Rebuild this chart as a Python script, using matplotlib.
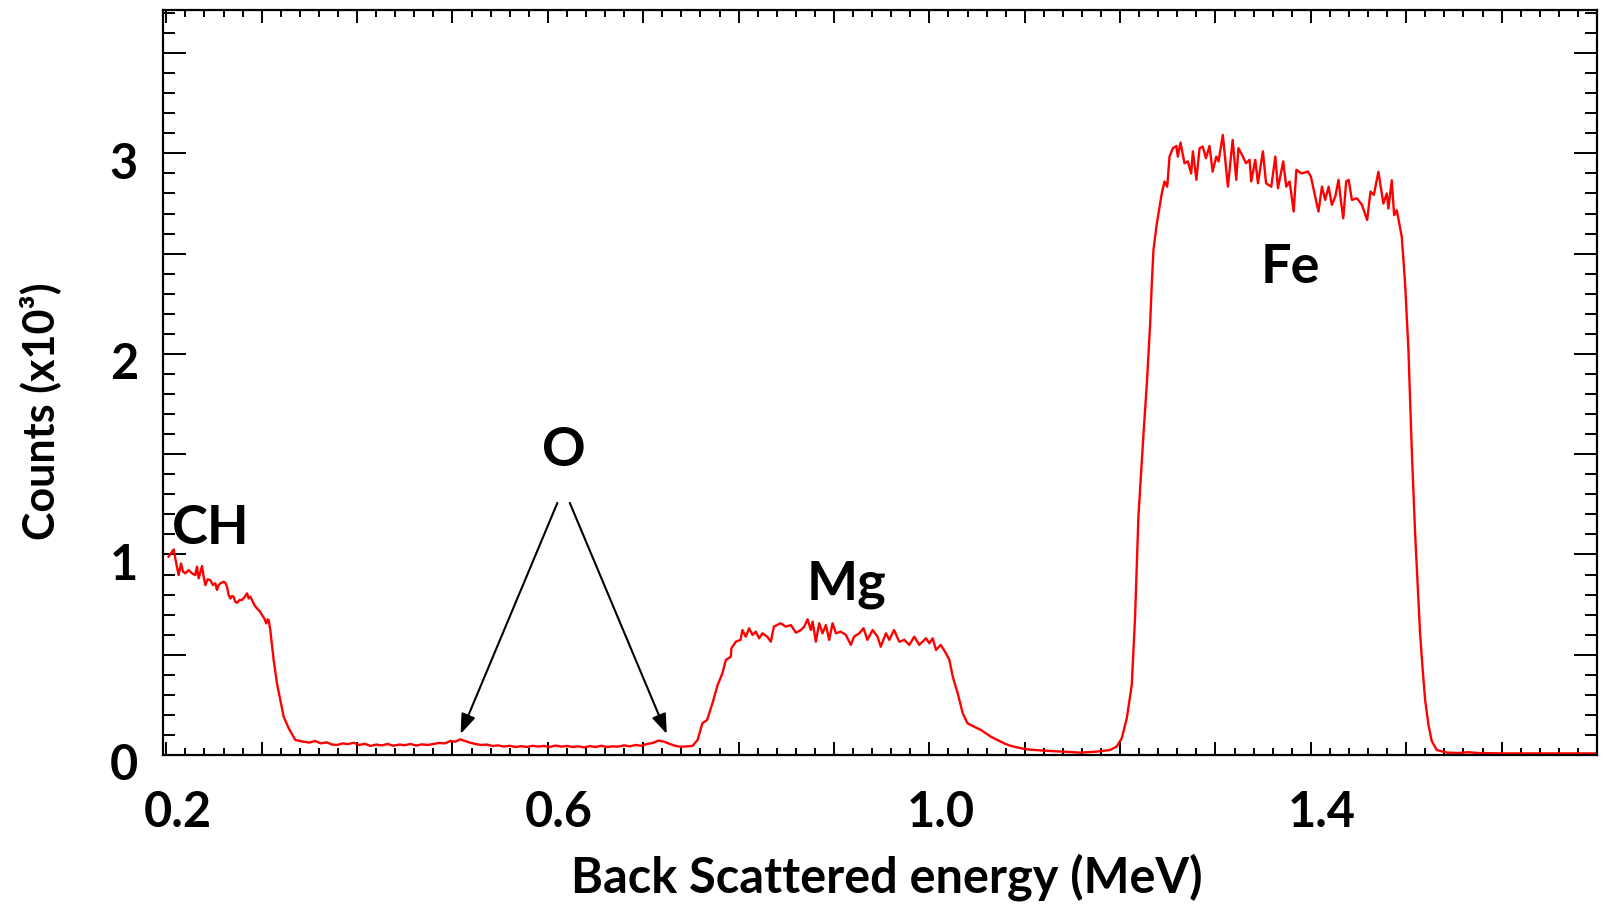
import matplotlib
matplotlib.use('Agg')
import numpy as np
import matplotlib.pyplot as plt
from matplotlib.ticker import MultipleLocator, FuncFormatter
from matplotlib.transforms import ScaledTranslation

plt.rcParams['font.family'] = ['Lato', 'DejaVu Sans']
plt.rcParams['font.weight'] = 'bold'

# ---------------- data ----------------
ch_energy = [0.2024, 0.2077, 0.2094, 0.2129, 0.2154, 0.2175, 0.2199, 0.2234, 0.2269, 0.2304,
             0.2321, 0.2339, 0.2374, 0.2391, 0.2409, 0.2433, 0.2461, 0.2489, 0.2514, 0.2531,
             0.2549, 0.2566, 0.2601, 0.2618, 0.2636, 0.2653, 0.2671, 0.2688, 0.2706, 0.2723,
             0.2741, 0.2769, 0.2793, 0.2818, 0.2846, 0.2863, 0.2881, 0.2898, 0.2923, 0.2950,
             0.2985, 0.3003, 0.3027, 0.3048, 0.3062, 0.3073, 0.3090, 0.3125, 0.3160, 0.3195,
             0.3230, 0.3283, 0.3352]
ch_counts = [0.989, 1.025, 0.980, 0.897, 0.955, 0.914, 0.906, 0.922, 0.906, 0.897,
             0.939, 0.881, 0.942, 0.889, 0.847, 0.876, 0.872, 0.847, 0.856, 0.823,
             0.847, 0.856, 0.864, 0.859, 0.839, 0.798, 0.781, 0.793, 0.789, 0.764,
             0.759, 0.773, 0.773, 0.786, 0.806, 0.781, 0.789, 0.773, 0.748, 0.731,
             0.714, 0.698, 0.681, 0.656, 0.676, 0.673, 0.623, 0.474, 0.357, 0.274,
             0.191, 0.133, 0.075]

o_energy = [0.344, 0.350, 0.356, 0.362, 0.368, 0.374, 0.379, 0.385, 0.390, 0.3965,
            0.402, 0.408, 0.414, 0.420, 0.426, 0.432, 0.438, 0.444, 0.450, 0.456,
            0.462, 0.468, 0.474, 0.480, 0.486, 0.492, 0.498, 0.503, 0.508, 0.513,
            0.518, 0.524, 0.530, 0.536, 0.542, 0.548, 0.554, 0.560, 0.566, 0.572,
            0.578, 0.584, 0.590, 0.596, 0.602, 0.608, 0.614, 0.620, 0.626, 0.632,
            0.638, 0.644, 0.650, 0.656, 0.662, 0.668, 0.674, 0.680, 0.686, 0.692,
            0.698, 0.704, 0.710, 0.716, 0.722, 0.728, 0.734]
o_counts = [0.066, 0.062, 0.070, 0.058, 0.063, 0.052, 0.050, 0.058, 0.054, 0.061,
            0.050, 0.056, 0.045, 0.052, 0.048, 0.055, 0.046, 0.052, 0.049, 0.055,
            0.047, 0.053, 0.050, 0.055, 0.060, 0.058, 0.070, 0.066, 0.078, 0.070,
            0.062, 0.055, 0.050, 0.052, 0.045, 0.048, 0.042, 0.046, 0.040, 0.044,
            0.040, 0.046, 0.042, 0.045, 0.040, 0.047, 0.042, 0.045, 0.040, 0.043,
            0.038, 0.044, 0.040, 0.046, 0.040, 0.043, 0.042, 0.048, 0.043, 0.050,
            0.046, 0.055, 0.060, 0.072, 0.066, 0.055, 0.045]

mg_energy = [0.7394, 0.7516, 0.757, 0.762, 0.767, 0.7726, 0.778, 0.783, 0.7866, 0.7918,
             0.7925, 0.797, 0.802, 0.804, 0.8075, 0.811, 0.8146, 0.818, 0.8215, 0.825,
             0.830, 0.8338, 0.837, 0.844, 0.8495, 0.8548, 0.860, 0.8653, 0.8688, 0.8723,
             0.8758, 0.8776, 0.881, 0.8845, 0.888, 0.8915, 0.895, 0.8985, 0.902, 0.907,
             0.9124, 0.9177, 0.921, 0.9265, 0.931, 0.935, 0.9405, 0.9457, 0.949, 0.9545,
             0.958, 0.963, 0.9685, 0.9737, 0.979, 0.9842, 0.9894, 0.9965, 1.000, 1.0035,
             1.007, 1.012, 1.0174, 1.021, 1.0245, 1.0297, 1.035, 1.040, 1.047, 1.054,
             1.0646, 1.075]
mg_counts = [0.041, 0.045, 0.075, 0.158, 0.175, 0.258, 0.349, 0.407, 0.474, 0.490,
             0.532, 0.565, 0.574, 0.623, 0.590, 0.632, 0.599, 0.615, 0.582, 0.607,
             0.590, 0.565, 0.640, 0.657, 0.640, 0.648, 0.610, 0.623, 0.640, 0.677,
             0.623, 0.665, 0.565, 0.657, 0.607, 0.648, 0.574, 0.657, 0.607, 0.615,
             0.599, 0.549, 0.590, 0.607, 0.632, 0.574, 0.623, 0.590, 0.540, 0.607,
             0.574, 0.623, 0.565, 0.574, 0.549, 0.590, 0.549, 0.582, 0.557, 0.582,
             0.524, 0.549, 0.507, 0.474, 0.391, 0.308, 0.208, 0.158, 0.141, 0.125,
             0.091, 0.066]

gap_energy = [1.080, 1.085, 1.090, 1.095, 1.100, 1.105, 1.110, 1.120, 1.130, 1.140,
              1.150, 1.158, 1.166, 1.1755, 1.1895]
gap_counts = [0.055, 0.046, 0.040, 0.035, 0.030, 0.027, 0.025, 0.022, 0.019, 0.017,
              0.014, 0.012, 0.014, 0.017, 0.025]

fe_energy = [1.1964, 1.2017, 1.2070, 1.2122, 1.2157, 1.2192, 1.2245, 1.228, 1.2315, 1.2332,
             1.235, 1.2385, 1.2437, 1.2466, 1.2494, 1.2518, 1.2553, 1.259, 1.2605, 1.2633,
             1.2675, 1.271, 1.2745, 1.2763, 1.280, 1.2833, 1.2866, 1.290, 1.2937, 1.297,
             1.3008, 1.3032, 1.3077, 1.313, 1.318, 1.3218, 1.324, 1.3287, 1.332, 1.3357,
             1.3375, 1.3417, 1.3445, 1.3497, 1.353, 1.3585, 1.3627, 1.3655, 1.371, 1.3742,
             1.3777, 1.382, 1.3848, 1.390, 1.397, 1.400, 1.4046, 1.408, 1.4116, 1.415,
             1.4186, 1.422, 1.4256, 1.429, 1.4318, 1.434, 1.437, 1.4396, 1.443, 1.4483,
             1.4536, 1.459, 1.4625, 1.466, 1.4708, 1.476, 1.4796, 1.4813, 1.4848, 1.4873,
             1.4901, 1.4953, 1.4988, 1.5023, 1.5058, 1.5093, 1.5128, 1.5145, 1.517, 1.5198,
             1.5233, 1.5267, 1.532, 1.5425]
fe_counts = [0.042, 0.083, 0.183, 0.349, 0.69, 1.19, 1.60, 1.85, 2.15, 2.35,
             2.52, 2.65, 2.80, 2.86, 2.834, 2.984, 3.026, 3.037, 2.984, 3.054,
             2.951, 2.96, 2.90, 3.01, 2.868, 3.026, 3.034, 2.976, 3.037, 2.909,
             2.984, 2.96, 3.092, 2.834, 3.067, 2.868, 3.026, 2.984, 2.951, 2.968,
             2.86, 2.968, 2.851, 3.01, 2.851, 2.834, 2.984, 2.826, 2.96, 2.834,
             2.86, 2.71, 2.918, 2.90, 2.909, 2.884, 2.785, 2.71, 2.834, 2.768,
             2.834, 2.743, 2.785, 2.868, 2.751, 2.676, 2.86, 2.868, 2.768, 2.776,
             2.743, 2.668, 2.81, 2.793, 2.908, 2.75, 2.80, 2.725, 2.866, 2.692,
             2.717, 2.584, 2.351, 2.019, 1.520, 1.105, 0.773, 0.606, 0.44, 0.274,
             0.15, 0.07, 0.025, 0.012]

tail_energy = [1.555, 1.565, 1.575, 1.600, 1.650, 1.700]
tail_counts = [0.010, 0.014, 0.010, 0.008, 0.008, 0.008]

x_label_values = [0.2, 0.6, 1.0, 1.4]
y_label_values = [0, 1, 2, 3]

element_names = ['CH', 'O', 'Mg', 'Fe']
element_energy = [0.247, 0.6166, 0.9135, 1.379]
element_height = [1.13, 1.52, 0.85, 2.43]

# arrows for O: (tail energy, tail counts) -> (head energy, head counts)
o_arrow_tails = [(0.610, 1.257), (0.623, 1.257)]
o_arrow_heads = [(0.5085, 0.105), (0.7247, 0.105)]

energy = np.concatenate([ch_energy, o_energy, mg_energy, gap_energy, fe_energy, tail_energy])
counts = np.concatenate([ch_counts, o_counts, mg_counts, gap_counts, fe_counts, tail_counts])

# ---------------- figure ----------------
fig = plt.figure(figsize=(16.02, 9.09), dpi=100)
ax = fig.add_axes([163 / 1602, 1 - 755 / 909, (1597 - 163) / 1602, (755 - 10) / 909])

ax.plot(energy, counts, color='#ff0000', lw=1.7, solid_joinstyle='round')

ax.set_xlim(0.1965, 1.70)
ax.set_ylim(0, 3.715)

for s in ax.spines.values():
    s.set_linewidth(1.6)

ax.xaxis.set_major_locator(MultipleLocator(0.1))
ax.xaxis.set_minor_locator(MultipleLocator(0.02))
ax.yaxis.set_major_locator(MultipleLocator(0.5))
ax.yaxis.set_minor_locator(MultipleLocator(0.1))


def xfmt(v, pos):
    for t in x_label_values:
        if abs(v - t) < 1e-6:
            return f'{t:.1f}'
    return ''


def yfmt(v, pos):
    for t in y_label_values:
        if abs(v - t) < 1e-6:
            return f'{t:d}'
    return ''


ax.xaxis.set_major_formatter(FuncFormatter(xfmt))
ax.yaxis.set_major_formatter(FuncFormatter(yfmt))

ax.tick_params(axis='x', which='major', direction='in', length=9.5, width=1.4,
               top=True, bottom=True, labelsize=35, pad=25)
ax.tick_params(axis='x', which='minor', direction='in', length=5, width=1.4,
               top=True, bottom=True)
ax.tick_params(axis='y', which='major', direction='in', length=16.5, width=1.4,
               left=True, right=True, labelsize=35, pad=18)
ax.tick_params(axis='y', which='minor', direction='in', length=8.5, width=1.4,
               left=True, right=True)

off_x = ScaledTranslation(11 / 100, 0, fig.dpi_scale_trans)
off_y = ScaledTranslation(0, -7 / 100, fig.dpi_scale_trans)
for lab in ax.get_xticklabels():
    lab.set_transform(lab.get_transform() + off_x)
    lab.set_fontweight('bold')
for lab in ax.get_yticklabels():
    lab.set_transform(lab.get_transform() + off_y)
    lab.set_fontweight('bold')

ax.set_xlabel('Back Scattered energy (MeV)', fontsize=35, fontweight='bold', va='center')
ax.xaxis.set_label_coords(0.505, -0.164)
ax.set_ylabel('Counts (x10³)', fontsize=31, fontweight='bold', va='center')
ax.yaxis.set_label_coords(-0.086, 0.462)

for name, xe, yc in zip(element_names, element_energy, element_height):
    ax.text(xe, yc, name, fontsize=39, fontweight='bold', ha='center', va='center')

for (xt, yt), (xh, yh) in zip(o_arrow_tails, o_arrow_heads):
    ax.annotate('', xy=(xh, yh), xytext=(xt, yt),
                arrowprops=dict(arrowstyle='-|>,head_length=0.6,head_width=0.22',
                                color='black', lw=1.5, mutation_scale=20,
                                shrinkA=0, shrinkB=0))

fig.savefig('out.png', dpi=100)
